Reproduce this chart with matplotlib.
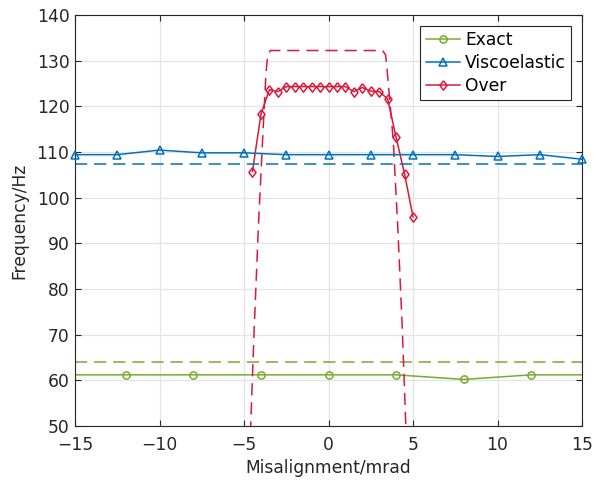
import matplotlib.pyplot as plt

# colours (MATLAB-ish)
GREEN = '#77AC30'
BLUE = '#0072BD'
RED = '#D9193B'

# Exact
exact_x = [-16, -12, -8, -4, 0, 4, 8, 12, 16]
exact_y = [61.2, 61.2, 61.2, 61.2, 61.2, 61.2, 60.2, 61.2, 61.2]
exact_ref = 64.0

# Viscoelastic
visco_x = [-15, -12.5, -10, -7.5, -5, -2.5, 0, 2.5, 5, 7.5, 10, 12.5, 15]
visco_y = [109.4, 109.4, 110.4, 109.8, 109.8, 109.4, 109.4, 109.4, 109.4, 109.4, 109.0, 109.4, 108.4]
visco_ref = 107.3

# Over
over_x = [-4.5, -4, -3.5, -3, -2.5, -2, -1.5, -1, -0.5, 0, 0.5, 1, 1.5, 2, 2.5, 3, 3.5, 4, 4.5, 5]
over_y = [105.7, 118.2, 123.6, 123.2, 124.3, 124.3, 124.3, 124.3, 124.3, 124.3, 124.3, 124.3,
          123.2, 124.1, 123.3, 123.2, 121.6, 113.2, 105.2, 95.8]

# Over, dashed reference curve
over_ref_x = [-4.75, -4.6, -4.4, -4.16, -3.9, -3.7, -3.6, -3.45, 0, 3.2, 3.38, 3.45, 3.83, 4.11, 4.37, 4.57, 4.7]
over_ref_y = [40, 50.5, 71, 92.7, 112.6, 127.2, 131.0, 132.2, 132.2, 132.2, 131.2, 128.7, 112.6, 92.7, 71, 50.5, 40]

DIAMOND = [(0, 1), (0.75, 0), (0, -1), (-0.75, 0), (0, 1)]
DASH = (0, (8, 4.5))
FS = 12.3

fig = plt.figure(figsize=(6, 4.8), dpi=100)
ax = fig.add_axes([0.125, 0.1125, 0.845, 0.8565])

ax.plot(exact_x, exact_y, color=GREEN, lw=1.1, marker='o', ms=5.2, mfc='none', mew=1.1, label='Exact')
ax.plot(visco_x, visco_y, color=BLUE, lw=1.1, marker='^', ms=6, mfc='none', mew=1.1,
        label='Viscoelastic', clip_on=False, zorder=3)
ax.plot(over_x, over_y, color=RED, lw=1.1, marker=DIAMOND, ms=6.8, mfc='none', mew=1.1, label='Over')

ax.axhline(exact_ref, color=GREEN, lw=1.1, ls=DASH)
ax.axhline(visco_ref, color=BLUE, lw=1.1, ls=DASH)
ax.plot(over_ref_x, over_ref_y, color=RED, lw=1.1, ls=DASH)

ax.set_xlim(-15, 15)
ax.set_ylim(50, 140)
ax.set_xticks(range(-15, 16, 5))
ax.set_yticks(range(50, 141, 10))
ax.set_xticklabels([str(v).replace('-', '\u2212') for v in range(-15, 16, 5)])

ax.grid(True, color='#E3E3E3', lw=0.9)
ax.set_axisbelow(True)
for s in ax.spines.values():
    s.set_color('#262626')
    s.set_linewidth(0.8)
ax.tick_params(direction='in', length=4, width=0.8, colors='#262626', labelsize=FS,
               top=True, right=True)
ax.tick_params(axis='x', pad=7)
ax.tick_params(axis='y', pad=4)

ax.set_xlabel('Misalignment/mrad', fontsize=FS, color='#262626', labelpad=4)
ax.set_ylabel('Frequency/Hz', fontsize=FS, color='#262626', labelpad=6)

leg = ax.legend(loc='upper right', fontsize=FS, fancybox=False, framealpha=1,
                edgecolor='#262626', borderaxespad=0.65, handlelength=2.0,
                handletextpad=0.3, borderpad=0.3, labelspacing=0.3)
leg.get_frame().set_linewidth(0.8)

fig.savefig('out.png', dpi=100)
